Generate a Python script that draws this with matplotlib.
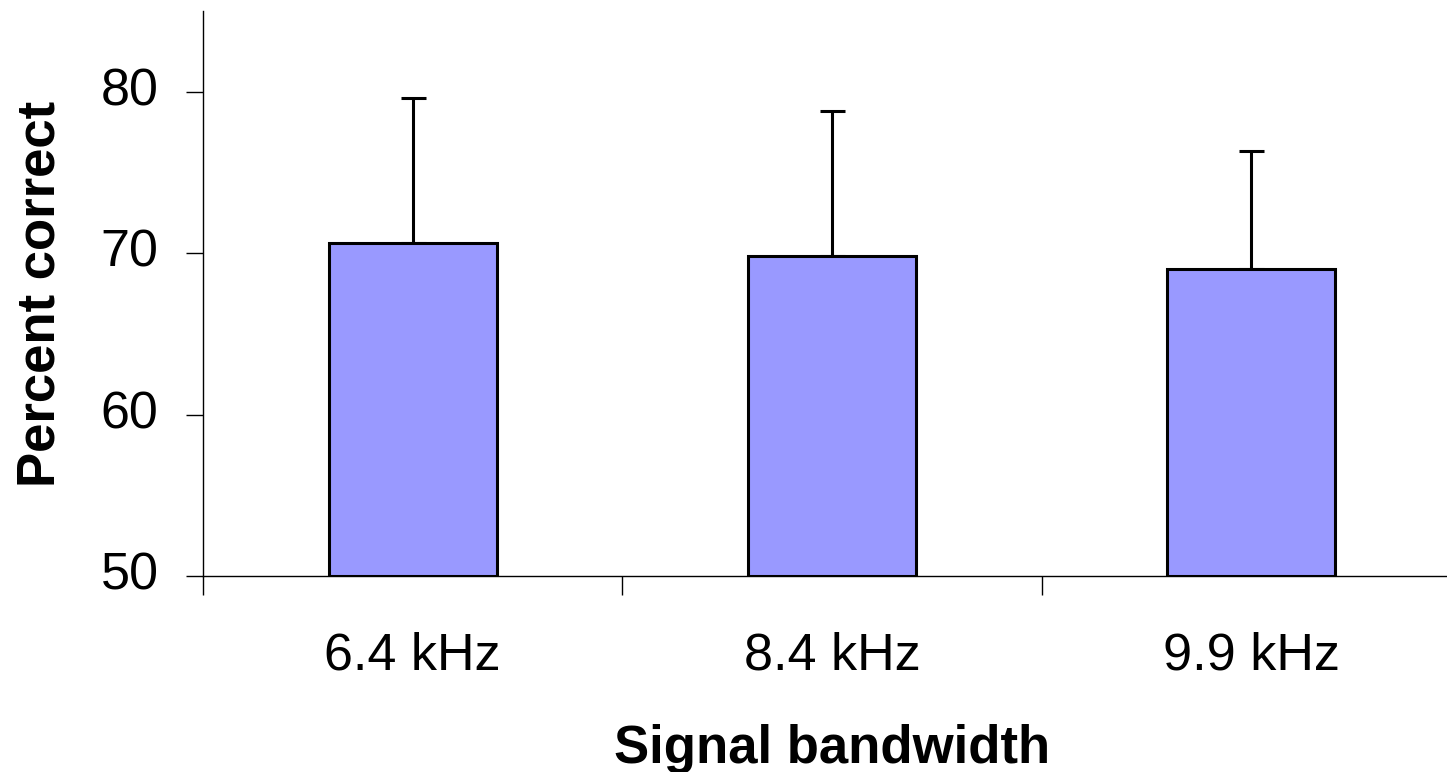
import matplotlib
matplotlib.use("Agg")
import matplotlib.pyplot as plt
import numpy as np

# mean percent correct per signal bandwidth, with upper SD bars
bandwidths = ["6.4 kHz", "8.4 kHz", "9.9 kHz"]
pct_correct = [70.6, 69.8, 69.0]
sd_upper = [9.0, 9.0, 7.3]

plt.rcParams["font.family"] = ["Liberation Sans", "DejaVu Sans"]

fig = plt.figure(figsize=(14.47, 7.72), dpi=100)
ax = fig.add_axes([203 / 1447, 1 - 576 / 772, 1258 / 1447, 565 / 772])

x = np.arange(len(bandwidths))
ax.bar(x, np.array(pct_correct) - 50, bottom=50, width=0.4,
       color="#9999FF", edgecolor="black", linewidth=2.2, zorder=3)
ax.errorbar(x, pct_correct, yerr=[np.zeros(len(sd_upper)), sd_upper],
            fmt="none", ecolor="black", elinewidth=2.2, capsize=9,
            capthick=2.2, zorder=2)

ax.set_xlim(-0.5, 2.5)
ax.set_ylim(50, 85)
ax.set_yticks([50, 60, 70, 80])
# group boundaries carry the tick marks, names sit at the bar centres
ax.set_xticks([-0.5, 0.5, 1.5, 2.5])
ax.set_xticklabels([])
ax.set_xticks(x, minor=True)
ax.set_xticklabels(bandwidths, minor=True)
ax.tick_params(axis="x", which="major", direction="out", length=14, width=1)
ax.tick_params(axis="x", which="minor", length=0, pad=40, labelsize=37.5)
ax.tick_params(axis="y", direction="out", length=12, width=1, pad=20, labelsize=37.5)
for lbl in ax.get_yticklabels():
    lbl.set_verticalalignment("center")

for side in ("top", "right"):
    ax.spines[side].set_visible(False)
for side in ("left", "bottom"):
    ax.spines[side].set_linewidth(1)

ax.set_xlabel("Signal bandwidth", fontsize=38, fontweight="bold", labelpad=31)
ax.set_ylabel("Percent correct", fontsize=38, fontweight="bold", labelpad=25)

fig.savefig("out.png", dpi=100, facecolor="white")
